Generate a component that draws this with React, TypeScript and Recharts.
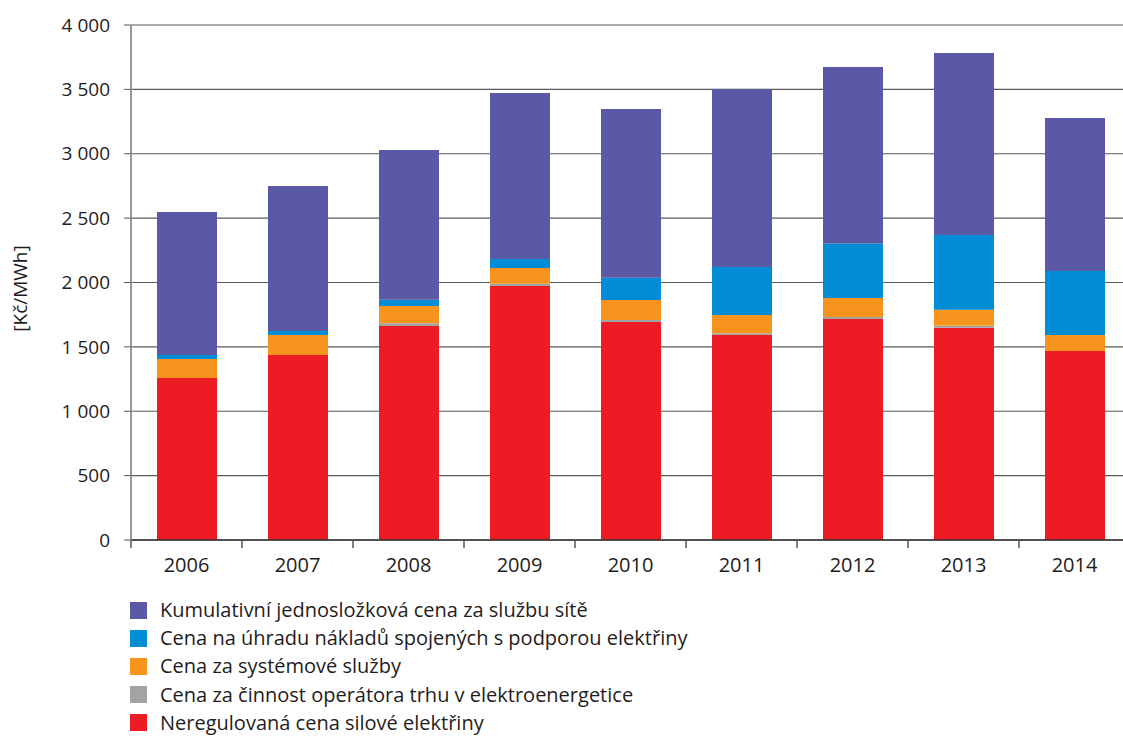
import React from 'react';
import { BarChart, Bar, XAxis, YAxis, CartesianGrid } from 'recharts';

const years = ['2006', '2007', '2008', '2009', '2010', '2011', '2012', '2013', '2014'];
const silovaElektrina = [1258, 1437, 1662, 1973, 1693, 1592, 1716, 1649, 1468];
const operatorTrhu = [0, 0, 21, 18, 16, 13, 16, 16, 0];
const systemoveSluzby = [148, 155, 134, 122, 155, 143, 148, 124, 124];
const podporaElektriny = [31, 31, 49, 69, 173, 372, 422, 580, 497];
const sluzbaSite = [1111, 1127, 1163, 1290, 1311, 1383, 1372, 1414, 1189];
const yTicks = [0, 500, 1000, 1500, 2000, 2500, 3000, 3500, 4000];

// stacking order bottom -> top
const series = [
  { key: 'red', name: 'Neregulovaná cena silové elektřiny', color: '#ED1C24', values: silovaElektrina },
  { key: 'gray', name: 'Cena za činnost operátora trhu v elektroenergetice', color: '#A3A3A3', values: operatorTrhu },
  { key: 'orange', name: 'Cena za systémové služby', color: '#F7941D', values: systemoveSluzby },
  { key: 'blue', name: 'Cena na úhradu nákladů spojených s podporou elektřiny', color: '#008DD5', values: podporaElektriny },
  { key: 'purple', name: 'Kumulativní jednosložková cena za službu sítě', color: '#5B58A6', values: sluzbaSite },
];

const data = years.map((year, i) => {
  const row: Record<string, string | number> = { year };
  series.forEach((s) => { row[s.key] = s.values[i]; });
  return row;
});

const FONT = '"Open Sans", sans-serif';
const TEXT = '#1f1c1d';

const fmt = (v: number) => String(v).replace(/\B(?=(\d{3})+(?!\d))/g, ' ');

const XTick = (props: any) => {
  const { x, y, payload } = props;
  const half = payload.offset ?? 55.5;
  return (
    <g>
      <line x1={x - half} y1={y - 8} x2={x - half} y2={y} stroke="#555" strokeWidth={1.5} />
      <text x={x} y={y + 24} textAnchor="middle" fill={TEXT} fontSize={20} fontFamily={FONT}>
        {payload.value}
      </text>
    </g>
  );
};

const YLabel = (props: any) => {
  const { viewBox } = props;
  const cx = 20;
  const cy = viewBox.y + viewBox.height / 2 + 6;
  return (
    <text x={cx} y={cy} transform={`rotate(-90 ${cx} ${cy})`} textAnchor="middle"
      dominantBaseline="central" fill={TEXT} fontSize={19} fontFamily={FONT}>
      [Kč/MWh]
    </text>
  );
};

export default function App() {
  const legendItems = [...series].reverse();
  return (
    <div style={{ position: 'fixed', left: 0, top: 0, width: 1123, height: 738, overflow: 'hidden', background: '#fff' }}>
      <BarChart width={1140} height={590} data={data} margin={{ top: 25, right: 10, left: 0, bottom: 0 }}>
        <CartesianGrid vertical={false} stroke="#5a5a5a" strokeWidth={1.2} />
        <XAxis
          dataKey="year"
          height={50}
          axisLine={{ stroke: '#333', strokeWidth: 1.5 }}
          tickLine={false}
          tick={<XTick />}
          interval={0}
        />
        <YAxis
          width={131}
          domain={[0, 4000]}
          ticks={yTicks}
          tickFormatter={fmt}
          axisLine={{ stroke: '#999', strokeWidth: 2 }}
          tickLine={{ stroke: '#5a5a5a' }}
          tickSize={7}
          tickMargin={14}
          tick={{ fill: TEXT, fontSize: 19, fontFamily: FONT }}
          label={<YLabel />}
        />
        {series.map((s) => (
          <Bar key={s.key} dataKey={s.key} name={s.name} stackId="a" fill={s.color}
            barSize={60} isAnimationActive={false} />
        ))}
      </BarChart>
      <div style={{ position: 'absolute', left: 130, top: 596, fontFamily: FONT, fontSize: 20, color: TEXT }}>
        {legendItems.map((s) => (
          <div key={s.key} style={{ display: 'flex', alignItems: 'center', height: 28.2 }}>
            <span style={{ display: 'inline-block', width: 17, height: 17, background: s.color, marginRight: 13 }} />
            <span style={{ lineHeight: '28px' }}>{s.name}</span>
          </div>
        ))}
      </div>
    </div>
  );
}
